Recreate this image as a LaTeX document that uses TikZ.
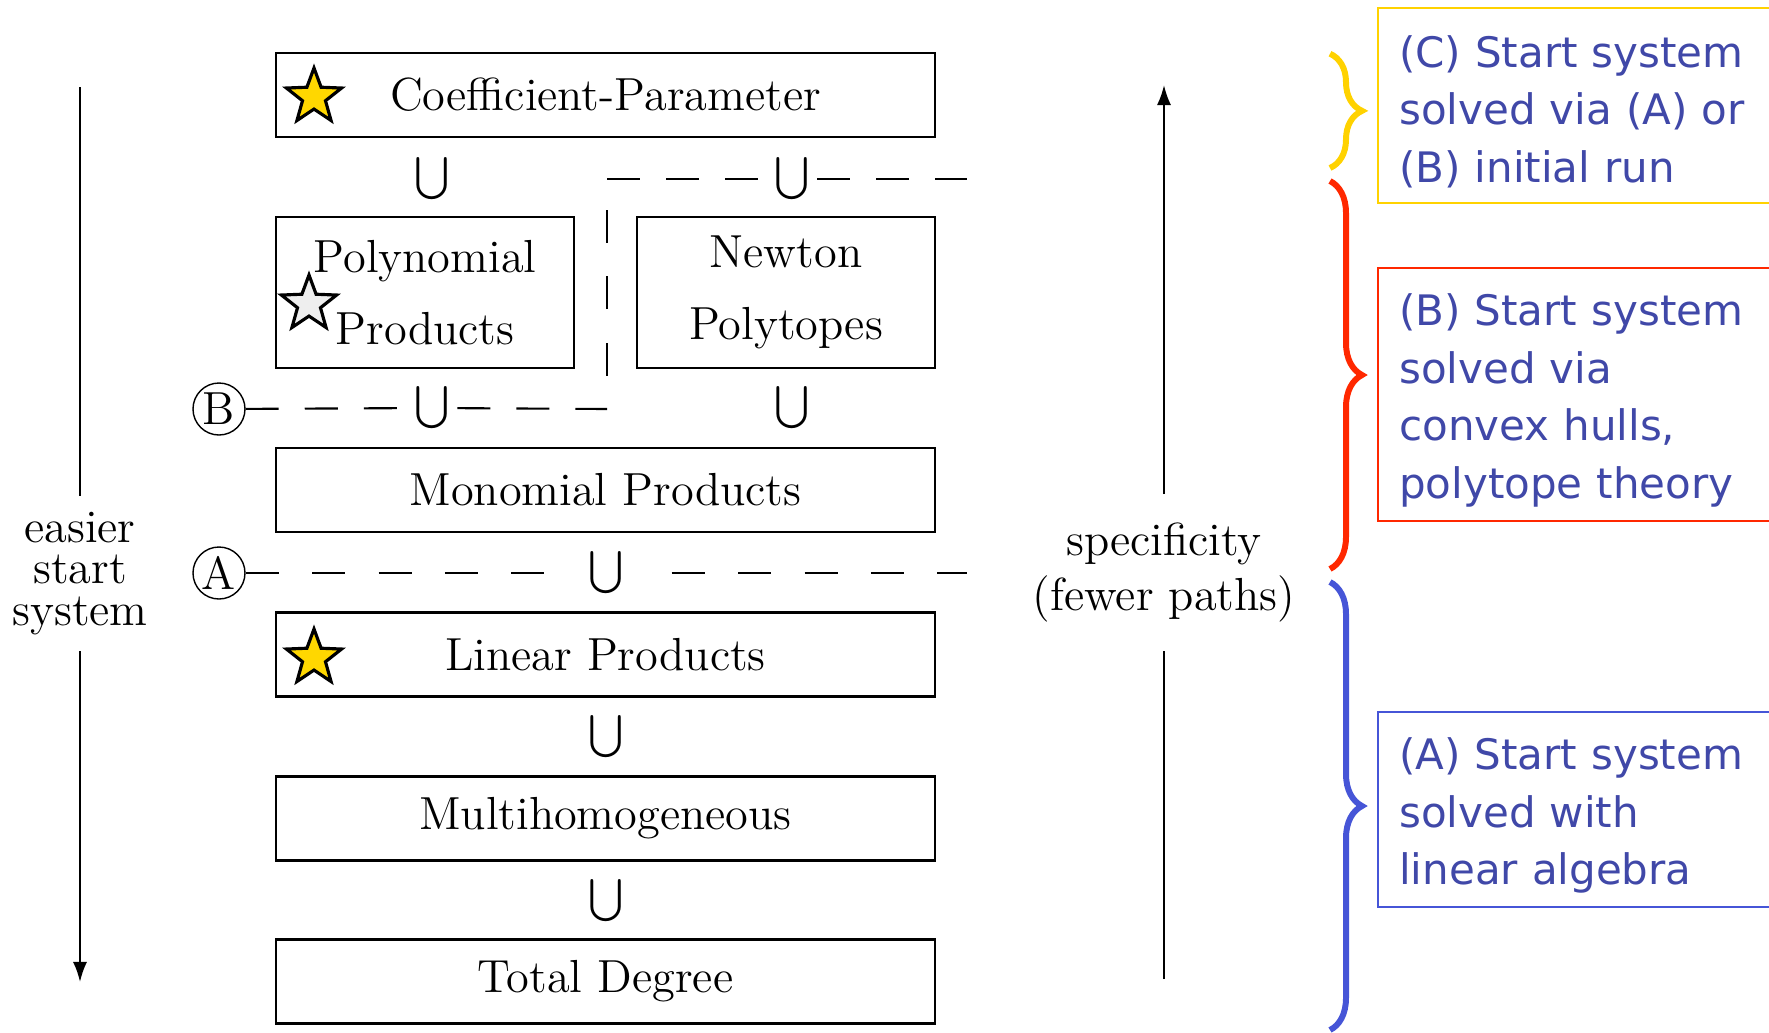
\documentclass[tikz,border=0pt]{standalone}
\usepackage{exscale}
\usepackage{fontspec}
\usepackage{xcolor}
\usepackage{tikz}
\usetikzlibrary{shapes.geometric, arrows.meta, positioning, decorations.pathreplacing}
\newfontfamily\notefont{DejaVu Sans}
\definecolor{stargold}{RGB}{255,215,0}
\definecolor{stargray}{RGB}{238,238,238}
\definecolor{noteyellow}{RGB}{255,210,0}
\definecolor{notered}{RGB}{255,40,0}
\definecolor{noteblue}{RGB}{70,85,215}
\definecolor{notetext}{RGB}{64,72,168}

\begin{document}
\begin{tikzpicture}[
    font=\fontsize{13.2}{15.8}\selectfont,
    box/.style={draw, line width=0.6pt, minimum width=6.59cm, minimum height=0.84cm, inner sep=0pt},
    halfbox/.style={box, minimum width=2.98cm, minimum height=1.51cm, align=center, font=\fontsize{13.2}{20.3}\selectfont},
    subset/.style={inner sep=0pt},
    starmark/.style={star, star points=5, star point ratio=2.4, minimum size=0.58cm, inner sep=0pt, draw, line width=0.9pt},
    level/.style={circle, draw, line width=0.4pt, minimum size=0.52cm, inner sep=0pt},
    cut/.style={line width=0.6pt, dash pattern=on 9.4pt off 7.4pt},
    widecut/.style={line width=0.6pt, dash pattern=on 9.4pt off 9.5pt},
    arrow/.style={-{Latex[length=5.7pt, width=4pt]}, line width=0.6pt},
    note/.style={draw, line width=0.7pt, anchor=north west, text width=4.6cm, inner xsep=0.21cm, inner ysep=0.05cm, align=left, text=notetext, font=\notefont\fontsize{11.95}{16.35}\selectfont},
    curly/.style={decorate, decoration={brace, amplitude=0.32cm}, line width=1.7pt}
]
    \useasboundingbox (0,0) rectangle (17.69,10.32);

    % Start system hierarchy
    \node[box] (coef) at (6.055,9.37) {Coefficient-Parameter};
    \node[halfbox] (poly) at (4.25,7.395) {Polynomial\\Products};
    \node[halfbox] (newton) at (7.86,7.395) {Newton\\Polytopes};
    \node[box] (mono) at (6.055,5.42) {Monomial Products};
    \node[box] (linear) at (6.055,3.775) {Linear Products};
    \node[box] (multi) at (6.055,2.135) {Multihomogeneous};
    \node[box] (total) at (6.055,0.505) {Total Degree};

    % Stars
    \node[starmark, fill=stargold] (starcoef) at (3.14,9.35) {};
    \node[starmark, fill=stargray] (starpoly) at (3.09,7.28) {};
    \node[starmark, fill=stargold] (starlinear) at (3.14,3.74) {};

    % Inclusions
    \node[subset] (sub1) at (4.32,8.53) {$\bigcup$};
    \node[subset] (sub2) at (7.92,8.53) {$\bigcup$};
    \node[subset] (sub3) at (4.32,6.24) {$\bigcup$};
    \node[subset] (sub4) at (7.92,6.24) {$\bigcup$};
    \node[subset] (sub5) at (6.06,4.59) {$\bigcup$};
    \node[subset] (sub6) at (6.06,2.955) {$\bigcup$};
    \node[subset] (sub7) at (6.06,1.31) {$\bigcup$};

    % Cut lines (A) and (B)
    \node[level] (cutB) at (2.19,6.23) {B};
    \node[level] (cutA) at (2.19,4.59) {A};
    \coordinate (bcorner) at (6.07,6.23);
    \coordinate (ccorner) at (6.07,8.53);
    \coordinate (cend) at (9.67,8.53);
    \coordinate (aend) at (9.67,4.59);
    \draw[cut] (cutB) -- (sub3);
    \draw[cut, dash phase=14.8pt] (sub3) -- (bcorner);
    \draw[widecut, dash phase=9.4pt] (bcorner) -- (ccorner);
    \draw[cut] (ccorner) -- (sub2);
    \draw[cut, dash phase=14.8pt] (sub2) -- (cend);
    \draw[widecut, shorten >=0.1cm] (cutA) -- (sub5);
    \draw[widecut, shorten <=0.14cm, dash phase=9.4pt] (sub5) -- (aend);

    % Side arrows
    \node[align=center, inner sep=0.16cm, font=\fontsize{13.2}{11.7}\selectfont] (easier) at (0.80,4.585) {easier\\start\\system};
    \coordinate (ltop) at (0.80,9.45);
    \coordinate (lbot) at (0.80,0.50);
    \draw[line width=0.6pt] (ltop) -- (easier.north);
    \draw[arrow] (easier.south) -- (lbot);

    \node[align=center, inner sep=0.28cm, font=\fontsize{13.2}{15.6}\selectfont] (spec) at (11.64,4.595) {specificity\\(fewer paths)};
    \coordinate (rtop) at (11.64,9.47);
    \coordinate (rbot) at (11.64,0.53);
    \draw[line width=0.6pt] (rbot) -- (spec.south);
    \draw[arrow] (spec.north) -- (rtop);

    % Notes
    \node[note, draw=noteyellow, minimum height=1.945cm] (noteC) at (13.77,10.25) {\rule{0pt}{0.44cm}(C) Start system\\solved via (A) or\\(B) initial run};
    \node[note, draw=notered, minimum height=2.53cm] (noteB) at (13.77,7.655) {\rule{0pt}{0.44cm}(B) Start system\\solved via\\convex hulls,\\polytope theory};
    \node[note, draw=noteblue, minimum height=1.95cm] (noteA) at (13.77,3.21) {\rule{0pt}{0.44cm}(A) Start system\\solved with\\linear algebra};

    % Braces
    \draw[curly, noteyellow] (13.30,9.783) -- (13.30,8.64);
    \draw[curly, notered] (13.30,8.51) -- (13.30,4.63);
    \draw[curly, noteblue] (13.30,4.50) -- (13.30,0.02);
\end{tikzpicture}
\end{document}
